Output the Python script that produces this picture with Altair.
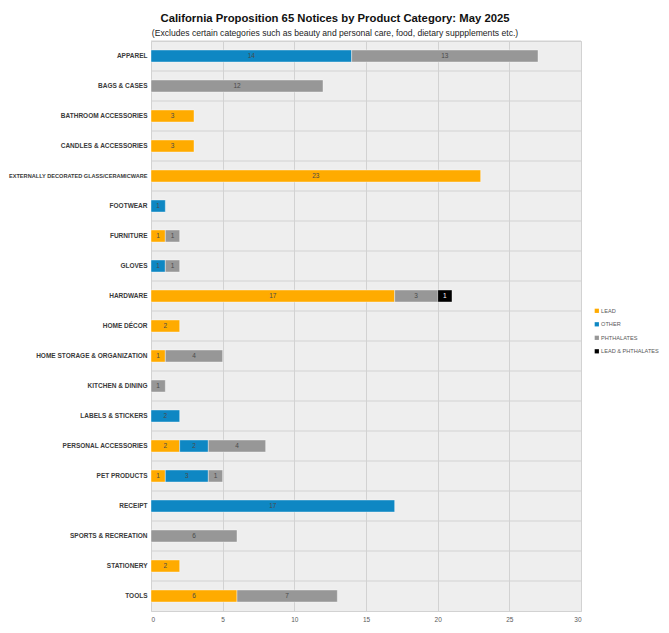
import altair as alt
import pandas as pd

categories = ["APPAREL", "BAGS & CASES", "BATHROOM ACCESSORIES", "CANDLES & ACCESSORIES",
              "EXTERNALLY DECORATED GLASS/CERAMICWARE", "FOOTWEAR", "FURNITURE", "GLOVES",
              "HARDWARE", "HOME DÉCOR", "HOME STORAGE & ORGANIZATION", "KITCHEN & DINING",
              "LABELS & STICKERS", "PERSONAL ACCESSORIES", "PET PRODUCTS", "RECEIPT",
              "SPORTS & RECREATION", "STATIONERY", "TOOLS"]
lead =       [0, 0, 3, 3, 23, 0, 1, 0, 17, 2, 1, 0, 0, 2, 1, 0, 0, 2, 6]
other =      [14, 0, 0, 0, 0, 1, 0, 1, 0, 0, 0, 0, 2, 2, 3, 17, 0, 0, 0]
phthalates = [13, 12, 0, 0, 0, 0, 1, 1, 3, 0, 4, 1, 0, 4, 1, 0, 6, 0, 7]
lead_phth =  [0, 0, 0, 0, 0, 0, 0, 0, 1, 0, 0, 0, 0, 0, 0, 0, 0, 0, 0]

series = ["LEAD", "OTHER", "PHTHALATES", "LEAD & PHTHALATES"]
colors = ["#FFAB00", "#0E87C3", "#979797", "#000000"]

rows = []
for si, (name, vals) in enumerate(zip(series, [lead, other, phthalates, lead_phth])):
    for c, v in zip(categories, vals):
        if v > 0:
            rows.append({"category": c, "series": name, "value": v, "order": si})
df = pd.DataFrame(rows)
cat_df = pd.DataFrame({"category": categories})

FONT = "Liberation Sans Narrow, Liberation Sans, sans-serif"

yscale = alt.Scale(domain=categories, paddingInner=0, paddingOuter=0)
xscale = alt.Scale(domain=[0, 30])

yaxis = alt.Axis(title=None, ticks=False, domain=False, grid=False,
                 labelFont=FONT, labelFontSize=alt.expr("length(datum.label) > 30 ? 5.6 : 6.5"),
                 labelFontWeight="bold",
                 labelColor="#3a3a3a", labelPadding=4, labelLimit=300)

grid = alt.Chart(cat_df).mark_rule(color="#d2d2d2", strokeWidth=1).encode(
    y=alt.Y("category:N", scale=yscale, sort=categories, bandPosition=0, axis=yaxis)
)

base = alt.Chart(df).transform_stack(
    stack="value", groupby=["category"], as_=["x0", "x1"],
    sort=[alt.SortField("order", order="ascending")]
).transform_calculate(mid="(datum.x0 + datum.x1) / 2")

bars = base.mark_bar(size=12, stroke="white", strokeWidth=0.4).encode(
    y=alt.Y("category:N", scale=yscale, sort=categories, axis=yaxis),
    x=alt.X("x0:Q", scale=xscale,
            axis=alt.Axis(title=None, values=[0, 5, 10, 15, 20, 25, 30], ticks=False,
                          domain=False, grid=True, gridColor="#d2d2d2",
                          labelFont=FONT, labelFontSize=6.5, labelColor="#595959",
                          labelPadding=5)),
    x2="x1:Q",
    color=alt.Color("series:N", scale=alt.Scale(domain=series, range=colors),
                    legend=alt.Legend(title=None, orient="none", legendX=443, legendY=267,
                                      symbolType="square", symbolSize=18,
                                      symbolStrokeWidth=0, labelFont=FONT,
                                      labelFontSize=5.6, labelColor="#595959",
                                      rowPadding=6.5, labelOffset=1.5)),
    order=alt.Order("order:Q"),
)

labels = base.mark_text(font=FONT, fontSize=6.5, baseline="middle").encode(
    y=alt.Y("category:N", scale=yscale, sort=categories),
    x=alt.X("mid:Q", scale=xscale),
    text="value:Q",
    color=alt.condition(alt.datum.series == "LEAD & PHTHALATES",
                        alt.value("#ffffff"), alt.value("#4a4a4a")),
)

chart = alt.layer(grid, bars, labels).properties(
    width=430, height=570,
    autosize=alt.AutoSizeParams(type="none"),
    padding={"left": 143, "top": 33, "right": 80, "bottom": 14},
    title=alt.TitleParams(
        "California Proposition 65 Notices by Product Category: May 2025",
        subtitle="(Excludes certain categories such as beauty and personal care, food, dietary suppplements etc.)",
        font=FONT, fontSize=11.3, fontWeight="bold", color="#111111",
        subtitleFont=FONT, subtitleFontSize=8.6, subtitleColor="#222222",
        anchor="middle", dx=-31, offset=3, subtitlePadding=5,
    ),
).configure_view(fill="#eeeeee", stroke="#d2d2d2", strokeWidth=1)

chart.save("out.html", embed_options={"renderer": "svg", "actions": False})
